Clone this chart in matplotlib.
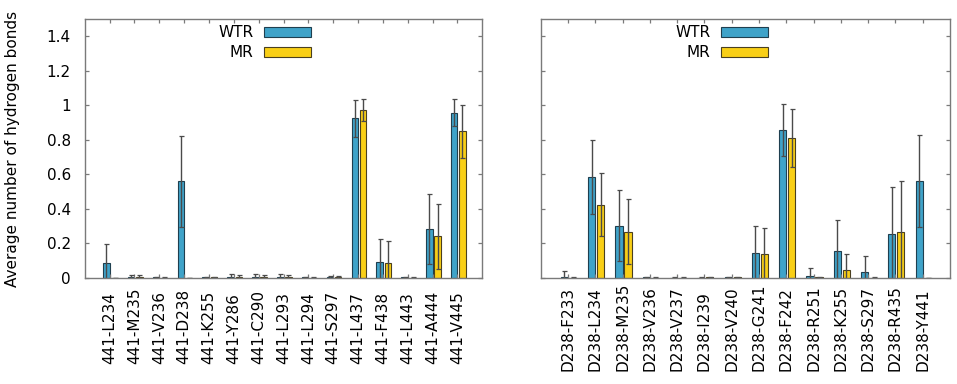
import numpy as np
import matplotlib
matplotlib.use("Agg")
import matplotlib.pyplot as plt

plt.rcParams["font.family"] = "DejaVu Sans"
plt.rcParams["font.size"] = 11

# left panel: pairs with residue 441
left_labels = ["441-L234", "441-M235", "441-V236", "441-D238", "441-K255",
               "441-Y286", "441-C290", "441-L293", "441-L294", "441-S297",
               "441-L437", "441-F438", "441-L443", "441-A444", "441-V445"]
left_wtr = [0.083, 0.003, 0.002, 0.558, 0.002, 0.004, 0.004, 0.004, 0.002, 0.002,
            0.925, 0.092, 0.002, 0.283, 0.957]
left_wtr_sd = [0.111, 0.015, 0.002, 0.265, 0.004, 0.015, 0.018, 0.015, 0.003, 0.010,
               0.107, 0.131, 0.003, 0.201, 0.080]
left_mr = [0.0, 0.003, 0.001, 0.0, 0.002, 0.005, 0.004, 0.004, 0.001, 0.002,
           0.973, 0.087, 0.001, 0.240, 0.848]
left_mr_sd = [0.0, 0.012, 0.002, 0.0, 0.003, 0.012, 0.012, 0.012, 0.002, 0.010,
              0.065, 0.125, 0.001, 0.190, 0.155]

# right panel: pairs with residue D238
right_labels = ["D238-F233", "D238-L234", "D238-M235", "D238-V236", "D238-V237",
                "D238-I239", "D238-V240", "D238-G241", "D238-F242", "D238-R251",
                "D238-K255", "D238-S297", "D238-R435", "D238-Y441"]
right_wtr = [0.003, 0.585, 0.302, 0.002, 0.001, 0.001, 0.002, 0.146, 0.856, 0.012,
             0.156, 0.035, 0.254, 0.560]
right_wtr_sd = [0.036, 0.213, 0.204, 0.003, 0.002, 0.002, 0.003, 0.154, 0.150, 0.042,
                0.177, 0.092, 0.271, 0.265]
right_mr = [0.001, 0.423, 0.267, 0.001, 0.001, 0.002, 0.002, 0.140, 0.811, 0.002,
            0.042, 0.001, 0.267, 0.0]
right_mr_sd = [0.004, 0.182, 0.190, 0.002, 0.001, 0.004, 0.003, 0.148, 0.167, 0.003,
               0.098, 0.004, 0.295, 0.0]

BLUE = "#3fa3c9"
YELLOW = "#f9cf16"
FRAME = "#7a7a7a"
W = 0.26

fig = plt.figure(figsize=(9.57, 3.84), dpi=100)
ax1 = fig.add_axes([0.0885, 0.2768, 0.4155, 0.6737])
ax2 = fig.add_axes([0.565, 0.2768, 0.4277, 0.6737])


def draw(ax, labels, wtr, wtr_sd, mr, mr_sd, label_y, legend_x):
    x = np.arange(len(labels))
    err_kw = dict(ecolor="#4a4a4a", elinewidth=1.0, capsize=1.8, capthick=0.9)
    ax.bar(x - 0.13, wtr, W, yerr=wtr_sd, color=BLUE, edgecolor="#1f3f4f",
           linewidth=0.8, error_kw=err_kw, label="WTR")
    ax.bar(x + 0.20, mr, W, yerr=mr_sd, color=YELLOW, edgecolor="#4a4020",
           linewidth=0.8, error_kw=err_kw, label="MR")
    ax.set_xlim(-1, len(labels))
    ax.set_ylim(0, 1.5)
    ax.set_yticks(np.arange(0, 1.41, 0.2))
    ax.set_yticklabels(["0", "0.2", "0.4", "0.6", "0.8", "1", "1.2", "1.4"])
    ax.set_xticks(x)
    ax.set_xticklabels([])
    for xi, lab in zip(x, labels):
        ax.text(xi, label_y, lab, transform=ax.get_xaxis_transform(),
                rotation=90, ha="center", va="bottom", fontsize=11)
    ax.tick_params(direction="in", length=2.8, width=0.9, color=FRAME,
                   top=True, right=True, pad=10)
    for s in ax.spines.values():
        s.set_color(FRAME)
        s.set_linewidth(1.0)
    ax.legend(loc="upper right", bbox_to_anchor=(legend_x, 0.975), frameon=False,
              markerfirst=False, handlelength=3.05, handleheight=0.62,
              labelspacing=0.32, borderpad=0, borderaxespad=0, handletextpad=0.7,
              fontsize=11)


draw(ax1, left_labels, left_wtr, left_wtr_sd, left_mr, left_mr_sd, -0.334, 0.568)
draw(ax2, right_labels, right_wtr, right_wtr_sd, right_mr, right_mr_sd, -0.361, 0.555)
ax2.set_yticklabels([])

fig.text(0.0135, 0.613, "Average number of hydrogen bonds", rotation=90,
         ha="center", va="center", fontsize=11)

fig.savefig("out.png", dpi=100)
